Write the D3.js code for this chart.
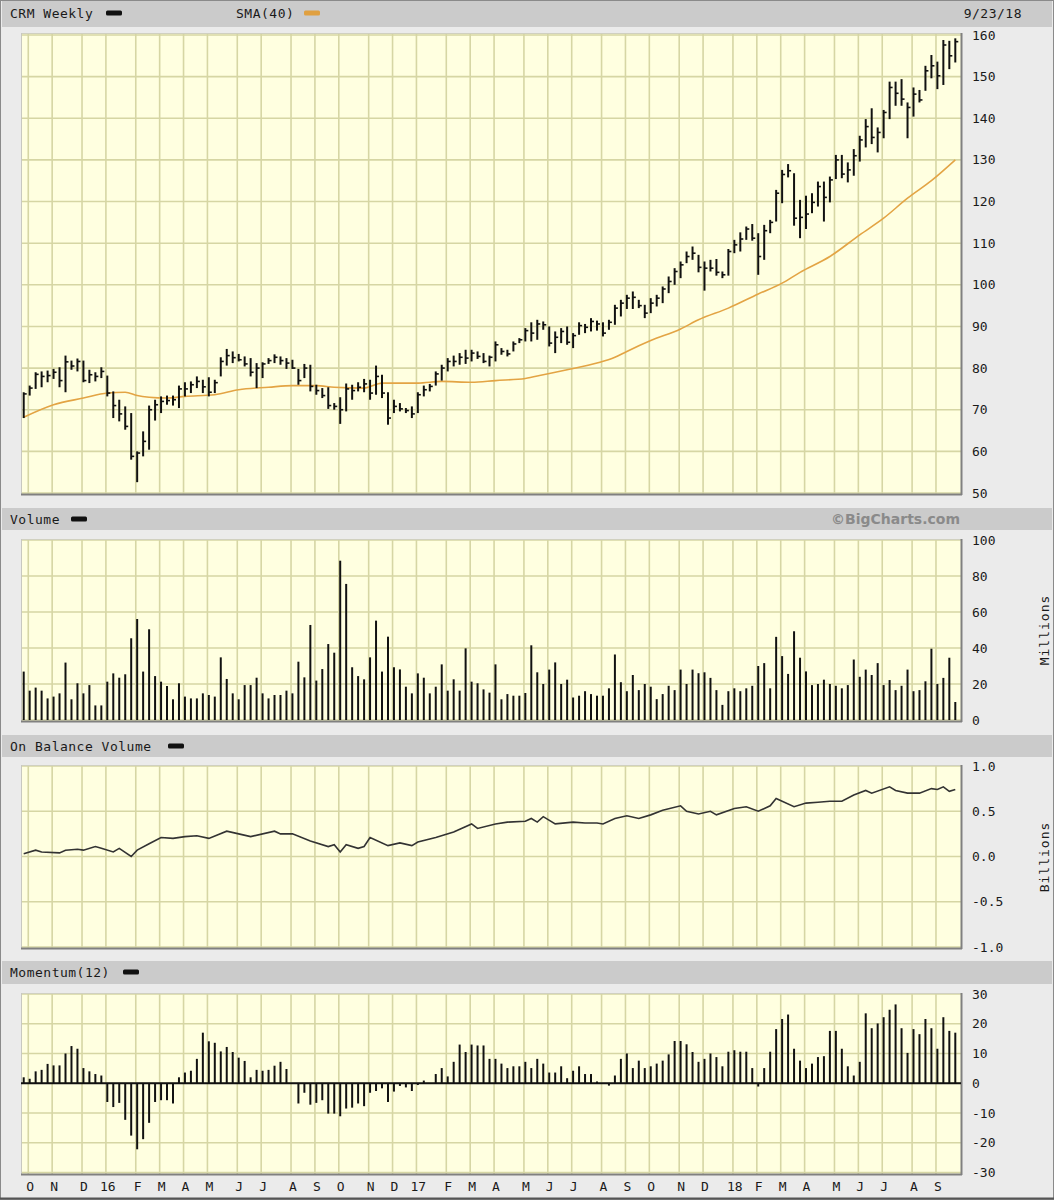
<!DOCTYPE html>
<html><head><meta charset="utf-8">
<script src="https://cdn.jsdelivr.net/npm/d3@7"></script>
<style>html,body{margin:0;padding:0;background:#ebebeb;} svg{display:block;}</style>
</head><body>
<svg id="c" width="1054" height="1200"></svg>
<script>
// ---------------- DATA (weekly bars, Sep 27 2015 .. Sep 23 2018) ----------------
const high = [74.2,75.8,79.0,79.2,79.4,79.8,80.2,83.0,81.8,82.3,81.8,79.6,79.0,80.2,78.2,74.4,72.4,70.8,69.2,60.0,
64.8,71.0,72.4,73.2,73.4,73.4,75.8,76.6,76.8,78.0,77.2,77.8,77.2,82.6,84.6,84.0,83.4,82.8,82.4,81.2,
81.4,82.4,83.3,82.8,82.4,82.0,79.8,81.0,80.8,76.0,75.2,75.4,71.6,73.0,76.3,76.0,76.6,77.4,77.2,80.6,
78.4,74.2,72.4,71.6,70.4,70.8,74.2,75.8,76.2,79.2,80.8,82.4,83.0,83.6,84.4,84.4,84.0,83.6,83.0,86.4,
84.8,84.4,86.4,87.2,89.6,91.0,91.6,91.2,90.0,88.8,89.6,90.0,88.4,91.0,90.6,92.0,91.4,91.0,91.6,95.2,
96.4,97.6,98.4,96.4,95.2,96.8,97.6,99.6,102.0,104.0,105.6,108.0,109.2,107.2,105.6,106.0,106.2,103.2,108.6,110.8,
112.6,114.0,114.6,112.4,114.4,115.6,122.8,127.6,129.0,126.8,120.4,121.4,122.0,124.8,124.8,126.0,131.2,131.2,129.4,132.6,
135.8,139.8,142.4,137.8,142.0,148.8,148.8,149.4,143.8,147.4,146.8,152.6,155.2,153.6,158.8,158.6,159.2];
const low = [68.0,73.4,75.0,75.4,76.6,77.4,75.4,74.2,79.6,79.2,76.6,76.4,76.8,77.6,73.2,68.0,67.2,65.2,58.0,52.6,
58.8,60.4,67.4,69.2,71.2,71.0,70.4,73.2,74.0,75.2,74.0,73.2,74.0,78.0,80.6,81.2,81.6,80.4,78.0,75.2,
77.6,81.0,81.2,80.8,79.8,79.8,76.0,77.6,74.4,73.6,72.8,70.2,70.0,66.6,69.6,72.4,74.4,74.2,72.4,73.6,
72.8,66.4,69.2,69.6,69.2,68.0,69.2,73.2,74.4,75.8,77.0,79.2,80.4,80.8,81.0,81.6,82.2,81.2,80.4,81.6,
83.2,82.8,84.0,86.0,86.4,86.4,86.8,89.2,85.2,83.6,86.0,85.6,84.8,88.0,88.4,88.8,89.0,87.6,89.2,90.4,
92.4,94.2,94.2,94.4,92.0,93.2,94.8,95.6,98.0,100.0,101.6,105.2,106.0,103.0,98.6,103.2,102.2,101.6,102.2,107.6,
108.0,110.8,110.6,102.4,106.0,112.4,115.2,119.6,125.8,114.2,111.2,113.4,117.2,118.8,115.2,119.8,125.4,125.6,124.6,126.2,
129.6,133.0,133.8,131.8,135.2,139.8,143.0,143.0,135.2,140.4,143.8,146.6,149.6,147.0,148.0,151.8,153.4];
const close = [73.8,75.2,78.5,78.0,78.2,79.0,77.0,81.5,80.5,81.6,77.0,78.4,78.0,79.2,74.0,71.0,69.0,66.0,58.8,59.6,
62.4,70.0,71.2,72.0,72.2,72.4,75.0,75.0,76.0,76.8,75.5,74.2,76.5,81.6,83.0,82.5,82.0,81.0,79.0,80.0,
81.0,81.8,82.6,81.8,81.2,80.0,77.0,80.0,75.6,74.6,73.4,71.0,70.8,70.0,75.0,74.6,75.4,76.2,74.0,78.0,
74.0,68.0,70.8,70.2,69.8,69.0,73.6,74.8,75.6,78.6,80.0,81.6,81.6,82.6,82.4,83.6,82.8,81.6,82.6,85.6,
84.0,83.4,85.8,86.8,89.0,88.4,90.6,90.4,86.0,87.4,88.8,86.2,87.8,90.2,89.8,91.2,90.6,88.4,91.0,94.4,
95.6,96.8,97.0,95.0,93.2,95.6,96.8,99.0,100.8,103.2,104.8,106.8,107.6,104.2,104.0,104.0,103.0,102.4,108.0,109.6,
111.0,113.4,111.2,106.8,113.0,115.0,122.0,126.5,127.4,116.0,116.2,117.0,119.8,123.6,121.0,125.2,130.0,126.6,127.6,131.0,
134.8,138.0,135.4,136.6,141.4,147.4,146.0,144.6,142.6,145.8,144.4,151.4,152.6,150.2,157.6,155.0,158.4];

// 40-week simple moving average, read at selected weeks (index, value)
const smaIdx = [0,5,10,14,17,19,21,24,27,32,36,41,45,49,52,57,60,66,70,75,79,84,87,91,96,99,101,105,110,113,118,123,127,130,135,140,144,148,152,156];
const smaVal = [68.2,71.2,72.8,74.0,74.2,73.4,73.0,72.8,73.2,73.6,74.8,75.4,75.8,75.8,75.4,75.2,76.4,76.4,76.8,76.6,77.0,77.5,78.4,79.6,81.2,82.6,84.0,86.6,89.4,91.6,94.4,97.8,100.4,103.0,106.8,112.0,116.0,120.8,125.0,130.0];

// weekly volume, millions
const volume = [26.9,16.3,18,16.3,12,13,14.8,31.9,11.5,20.4,14.8,19.4,8.1,8.1,21.3,25.9,23.5,25.4,45.4,56.1,
26.9,50.4,24.4,21.3,18.9,11.5,20.4,13,12,12,14.8,13.9,13,34.8,22.8,14.8,11.5,19.4,19.4,23.5,
14.8,12,13.9,13.9,16.3,14.8,32.4,23.7,52.8,21.9,28.3,42.2,37.4,88.5,75.6,29.3,24.4,22.6,34.8,55.2,
26.9,46.3,29.3,28.1,18.5,14.8,25.9,23.5,14.8,18.5,30.9,16.3,22.6,16.3,39.8,21.3,20.4,17,15.2,30.9,
11.5,14.4,13.5,13.5,15,41.5,26.5,20,28,32,20,22.4,12.5,13.5,16,14.4,13.5,13.5,17.6,36.4,
21,16,25,16.6,20,18.5,11.6,14.4,19,16.6,28,20,28,26,26.5,23.4,16.6,8.4,16,17.6,
16,17.6,19,30,31.6,17.6,46.2,35.5,25.6,49.3,34.6,27,19.4,20,22.4,20,19,17.6,19.4,33.6,
24,28,25,31.6,19.4,22.2,16.6,19,28,16,16.6,21.5,39.6,20,23.4,34.6,10];

// on balance volume, billions, read at selected weeks
const obvIdx = [0,2,3,6,7,9,10,12,13,15,16,18,19,21,23,25,27,29,31,34,36,38,42,43,45,48,51,52,53,54,56,57,58,61,63,65,66,69,72,75,76,79,81,84,85,86,87,89,92,94,96,97,99,101,103,105,107,110,111,113,115,116,119,121,123,125,126,129,131,133,135,137,139,141,142,145,146,148,150,152,153,154,155,156];
const obvVal = [0.03,0.07,0.05,0.04,0.07,0.08,0.07,0.11,0.09,0.05,0.09,0.0,0.07,0.14,0.21,0.20,0.22,0.23,0.20,0.28,0.25,0.22,0.28,0.25,0.25,0.17,0.11,0.13,0.05,0.13,0.09,0.11,0.21,0.12,0.15,0.12,0.16,0.21,0.27,0.36,0.31,0.36,0.38,0.39,0.42,0.38,0.44,0.36,0.38,0.37,0.37,0.36,0.42,0.45,0.42,0.46,0.51,0.56,0.50,0.47,0.50,0.46,0.53,0.55,0.50,0.56,0.64,0.55,0.59,0.60,0.61,0.61,0.68,0.73,0.70,0.77,0.73,0.70,0.70,0.75,0.74,0.77,0.72,0.74];

// momentum(12)
const momentum = [2,1.5,4,4.5,6.5,6,6,10,12.5,11.6,5.1,4,3.1,2.6,-6.3,-8,-6.6,-12.3,-17.6,-22.2,
-18.8,-13.3,-6.3,-5.7,-5.7,-6.8,2,3.6,4.2,8.2,17,14.1,13.6,10.7,12.2,10.5,8.6,7.5,2,4.5,
4.2,4.5,5.9,7.2,4.8,0,-6.8,-3.2,-7.2,-6.6,-5.7,-10.2,-10.2,-11.1,-8.5,-8.2,-6.8,-7.7,-3.2,-2.6,
-1.7,-6.3,-2.8,-0.9,-1.4,-2.6,-0.6,0.9,0,3.1,5.1,2.3,7.2,13,10.5,13,12.7,12.7,8.2,8.2,
6.6,5.1,5.7,5.7,7.2,5.1,8.2,6.6,3.6,3.6,5.7,1.7,4.2,5.7,3.1,3.1,0.6,0,-0.8,2.6,
8.2,10,5.1,7.6,5.1,5.7,6.6,7.6,9.7,14.2,14.2,13.1,10.5,7.2,8.2,10,8.8,5.7,10.6,11.1,
10.6,10.6,5.1,-1.1,5.1,10.6,18.2,21.6,23.1,11.6,7.6,5.1,6.6,8.8,9.1,17.6,17.6,11.6,5.7,2.6,
7.2,23.5,18.5,20.1,22.2,24.7,26.5,18.5,10.2,18.2,16.5,21.6,18.5,11.6,22.2,17.6,17];

// month starts (first weekly bar of each month) and their labels
const monthIdx = [1,5,10,14,19,23,27,31,36,40,45,49,53,58,62,66,71,75,79,84,88,92,97,101,105,110,114,119,123,127,131,136,140,144,149,153];
const monthLabels = ["O","N","D","16","F","M","A","M","J","J","A","S","O","N","D","17","F","M","A","M","J","J","A","S","O","N","D","18","F","M","A","M","J","J","A","S"];

const priceTicks = [50,60,70,80,90,100,110,120,130,140,150,160];
const volTicks = [0,20,40,60,80,100];
const obvTicks = [-1,-0.5,0,0.5,1];
const momTicks = [-30,-20,-10,0,10,20,30];

// ---------------- DRAWING ----------------
const W = 1054, H = 1200;
const PL = 21, PR = 961;
const mono = "'DejaVu Sans Mono', monospace";
const C_BG = "#ebebeb", C_HEAD = "#cbcbcb", C_PLOT = "#ffffe0", C_GRID = "#d6d6a4";
const svg = d3.select("#c");

svg.append("rect").attr("width", W).attr("height", H).attr("fill", C_BG);

const x = d3.scaleLinear().domain([0, 156]).range([23.7, 955.3]);

const panels = [
  { head: [0, 27], top: 33, bot: 494, y: d3.scaleLinear().domain([50, 160]).range([493, 35]), ticks: priceTicks, fmt: d => String(d) },
  { head: [508, 22], top: 539, bot: 721, y: d3.scaleLinear().domain([0, 100]).range([720, 540]), ticks: volTicks, fmt: d => String(d) },
  { head: [735, 22], top: 765, bot: 948, y: d3.scaleLinear().domain([-1, 1]).range([947, 766]), ticks: obvTicks, fmt: d => (d < 0 ? "-" : "") + Math.abs(d).toFixed(1) },
  { head: [961, 23], top: 993, bot: 1174, y: d3.scaleLinear().domain([-30, 30]).range([1172.5, 994]), ticks: momTicks, fmt: d => (d < 0 ? "-" : "") + Math.abs(d) }
];

panels.forEach(p => {
  svg.append("rect").attr("x", 2).attr("y", p.head[0]).attr("width", W - 4).attr("height", p.head[1]).attr("fill", C_HEAD);
  svg.append("rect").attr("x", PL).attr("y", p.top).attr("width", PR - PL).attr("height", p.bot - p.top).attr("fill", C_PLOT);
  const g = svg.append("g");
  // horizontal grid
  g.selectAll("line.h").data(p.ticks).join("line")
    .attr("x1", PL).attr("x2", PR).attr("y1", d => p.y(d)).attr("y2", d => p.y(d))
    .attr("stroke", C_GRID).attr("stroke-width", 1.6);
  // vertical grid (month starts)
  g.selectAll("line.v").data(monthIdx).join("line")
    .attr("x1", d => x(d) - 1.4).attr("x2", d => x(d) - 1.4).attr("y1", p.top).attr("y2", p.bot)
    .attr("stroke", C_GRID).attr("stroke-width", 1.6);
  // frame
  svg.append("line").attr("x1", PL).attr("x2", PR).attr("y1", p.top + 0.5).attr("y2", p.top + 0.5).attr("stroke", "#d0d0c0");
  svg.append("line").attr("x1", PL + 0.5).attr("x2", PL + 0.5).attr("y1", p.top).attr("y2", p.bot).attr("stroke", "#c8c8c0");
  svg.append("line").attr("x1", PL).attr("x2", PR + 1).attr("y1", p.bot + 0.5).attr("y2", p.bot + 0.5).attr("stroke", "#808080").attr("stroke-width", 2);
  svg.append("line").attr("x1", PR + 0.5).attr("x2", PR + 0.5).attr("y1", p.top).attr("y2", p.bot + 1).attr("stroke", "#808080").attr("stroke-width", 2);
  // right axis labels
  svg.selectAll(null).data(p.ticks).join("text")
    .attr("x", 972).attr("y", d => p.y(d)).attr("dy", "0.35em")
    .attr("font-family", mono).attr("font-size", 13).attr("fill", "#1a1a1a")
    .text(p.fmt);
});

// ---- header texts
function headText(t, xx, yy, anchor) {
  return svg.append("text").attr("x", xx).attr("y", yy).attr("dy", "0.35em")
    .attr("text-anchor", anchor || "start")
    .attr("font-family", mono).attr("font-size", 13).attr("letter-spacing", 0.5).attr("fill", "#1a1a1a").text(t);
}
function swatch(xx, yy, col) {
  svg.append("rect").attr("x", xx).attr("y", yy - 2.5).attr("width", 16).attr("height", 5).attr("rx", 1.5).attr("fill", col);
}
headText("CRM Weekly", 10, 13); swatch(106, 13, "#111");
headText("SMA(40)", 236, 13); swatch(304, 13, "#e0a040");
headText("9/23/18", 1022, 13, "end");
headText("Volume", 10, 519); swatch(71, 519, "#111");
svg.append("text").attr("x", 960).attr("y", 519).attr("dy", "0.35em").attr("text-anchor", "end")
  .attr("font-family", "'DejaVu Sans', sans-serif").attr("font-weight", "bold").attr("font-size", 14)
  .attr("fill", "#8a8a8a").text("©BigCharts.com");
headText("On Balance Volume", 10, 746); swatch(168, 746, "#111");
headText("Momentum(12)", 10, 972); swatch(123, 972, "#111");

// rotated unit labels
svg.append("text").attr("transform", "translate(1044,630) rotate(-90)").attr("text-anchor", "middle").attr("dy", "0.35em")
  .attr("font-family", mono).attr("font-size", 13).attr("letter-spacing", 1).attr("fill", "#1a1a1a").text("Millions");
svg.append("text").attr("transform", "translate(1044,857) rotate(-90)").attr("text-anchor", "middle").attr("dy", "0.35em")
  .attr("font-family", mono).attr("font-size", 13).attr("letter-spacing", 1).attr("fill", "#1a1a1a").text("Billions");

// ---- price panel
const py = panels[0].y;
const idx = d3.range(high.length);
svg.append("path").datum(smaIdx.map((d, k) => [d, smaVal[k]]))
  .attr("d", d3.line().x(d => x(d[0])).y(d => py(d[1])).curve(d3.curveMonotoneX))
  .attr("fill", "none").attr("stroke", "#e3a444").attr("stroke-width", 1.6);
const bars = svg.append("g");
bars.selectAll("line.hl").data(idx).join("line")
  .attr("x1", i => x(i)).attr("x2", i => x(i)).attr("y1", i => py(high[i])).attr("y2", i => py(low[i]))
  .attr("stroke", "#111").attr("stroke-width", 2);
bars.selectAll("line.c").data(idx).join("line")
  .attr("x1", i => x(i)).attr("x2", i => x(i) + 3).attr("y1", i => py(close[i])).attr("y2", i => py(close[i]))
  .attr("stroke", "#111").attr("stroke-width", 1.6);

// ---- volume panel
const vy = panels[1].y;
svg.append("g").selectAll("line").data(idx).join("line")
  .attr("x1", i => x(i)).attr("x2", i => x(i)).attr("y1", vy(0)).attr("y2", i => vy(volume[i]))
  .attr("stroke", "#111").attr("stroke-width", 2);

// ---- OBV panel
const oy = panels[2].y;
svg.append("path").datum(obvIdx.map((d, k) => [d, obvVal[k]]))
  .attr("d", d3.line().x(d => x(d[0])).y(d => oy(d[1])))
  .attr("fill", "none").attr("stroke", "#333").attr("stroke-width", 1.6);

// ---- momentum panel
const my = panels[3].y;
svg.append("line").attr("x1", PL).attr("x2", PR).attr("y1", my(0)).attr("y2", my(0)).attr("stroke", "#111").attr("stroke-width", 2);
svg.append("g").selectAll("line").data(idx).join("line")
  .attr("x1", i => x(i)).attr("x2", i => x(i)).attr("y1", my(0)).attr("y2", i => my(momentum[i]))
  .attr("stroke", "#111").attr("stroke-width", 2);

// ---- month axis
svg.append("g").selectAll("text").data(monthIdx).join("text")
  .attr("x", i => x(i) + 0.5).attr("y", 1186).attr("dy", "0.35em").attr("text-anchor", "middle")
  .attr("font-family", mono).attr("font-size", 13).attr("fill", "#1a1a1a")
  .text((d, k) => monthLabels[k]);

// outer frame
svg.append("rect").attr("x", 0.5).attr("y", 0.5).attr("width", W - 1).attr("height", H - 1)
  .attr("fill", "none").attr("stroke", "#8a8a8a");
svg.append("line").attr("x1", 0).attr("x2", W).attr("y1", H - 1.5).attr("y2", H - 1.5).attr("stroke", "#555").attr("stroke-width", 2);
</script>
</body></html>
